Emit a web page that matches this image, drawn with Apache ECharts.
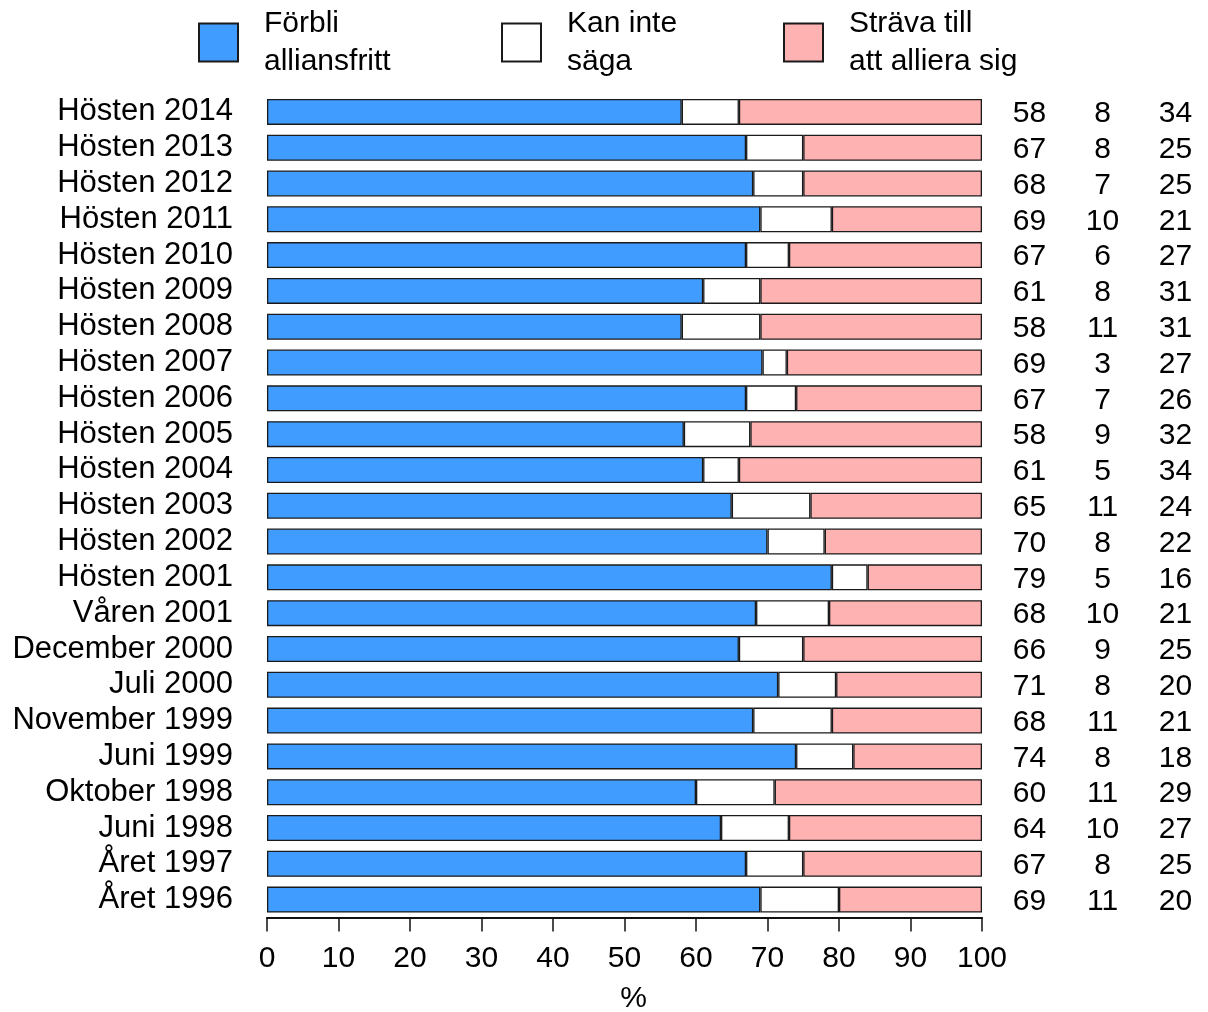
<!DOCTYPE html>
<html>
<head>
<meta charset="utf-8">
<script src="https://cdn.jsdelivr.net/npm/echarts@6/dist/echarts.min.js"></script>
<style>html,body{margin:0;padding:0;background:#fff}#c{width:1208px;height:1012px}</style>
</head>
<body>
<div id="c"></div>
<script>
var categories = ['Hösten 2014','Hösten 2013','Hösten 2012','Hösten 2011','Hösten 2010','Hösten 2009','Hösten 2008','Hösten 2007','Hösten 2006','Hösten 2005','Hösten 2004','Hösten 2003','Hösten 2002','Hösten 2001','Våren 2001','December 2000','Juli 2000','November 1999','Juni 1999','Oktober 1998','Juni 1998','Året 1997','Året 1996'];
var seriesNames = ['Förbli\nalliansfritt','Kan inte\nsäga','Sträva till\natt alliera sig'];
var blueVals  = [58,67,68,69,67,61,58,69.3,67,58.3,61,65,70,79,68.4,66,71.5,68,74,60,63.5,67,69];
var whiteVals = [8,8,7,10,6,8,11,3.4,7,9.3,5,11,8,5,10.2,9,8.1,11,8,11,9.5,8,11];
var pinkVals  = [34,25,25,21,27,31,31,27.3,26,32.4,34,24,22,16,21.4,25,20.4,21,18,29,27,25,20];
var blueLbl  = [58,67,68,69,67,61,58,69,67,58,61,65,70,79,68,66,71,68,74,60,64,67,69];
var whiteLbl = [8,8,7,10,6,8,11,3,7,9,5,11,8,5,10,9,8,11,8,11,10,8,11];
var pinkLbl  = [34,25,25,21,27,31,31,27,26,32,34,24,22,16,21,25,20,21,18,29,27,25,20];
var xTicks = [0,10,20,30,40,50,60,70,80,90,100];

var FONT = "'Liberation Sans', Arial, Helvetica, sans-serif";
var colors = ['#409dff','#ffffff','#ffb2b2'];
var chart = echarts.init(document.getElementById('c'), null, {renderer:'canvas'});

function legendAt(i, left){
  return {
    data:[seriesNames[i]], left:left, top:4, padding:0, orient:'horizontal',
    itemWidth:39, itemHeight:38, icon:'rect', selectedMode:false,
    textStyle:{fontFamily:FONT, fontSize:30, color:'#000', lineHeight:38, padding:[1,0,0,21]}
  };
}
var vals = [blueVals, whiteVals, pinkVals];
var series = vals.map(function(v, i){
  var s = {
    name: seriesNames[i], type:'bar', stack:'t', data:v, barWidth:26,
    itemStyle:{color:colors[i], borderColor:'#1a1a1a', borderWidth:1.3},
    emphasis:{disabled:true}, animation:false
  };
  if (i === 2) {
    s.label = {
      show:true, position:'right', distance:11, offset:[0,2],
      formatter:function(p){
        var k = p.dataIndex;
        return '{a|' + blueLbl[k] + '}{b|' + whiteLbl[k] + '}{c|' + pinkLbl[k] + '}';
      },
      rich:{
        a:{width:73, align:'center', fontSize:30, fontFamily:FONT, color:'#000'},
        b:{width:73, align:'center', fontSize:30, fontFamily:FONT, color:'#000'},
        c:{width:73, align:'center', fontSize:30, fontFamily:FONT, color:'#000'}
      }
    };
  }
  return s;
});

chart.setOption({
  animation:false,
  backgroundColor:'#fff',
  textStyle:{fontFamily:FONT},
  legend:[legendAt(0,198), legendAt(1,501), legendAt(2,783)],
  grid:{left:267, right:226, top:94, bottom:94.5, containLabel:false, outerBoundsMode:'none'},
  xAxis:{
    type:'value', min:0, max:100, interval:10,
    name:'%', nameLocation:'middle', nameGap:66,
    nameTextStyle:{fontSize:30, color:'#000', fontFamily:FONT, padding:[0,0,0,18]},
    axisLine:{show:true, lineStyle:{color:'#111', width:2}},
    axisTick:{show:true, length:14, lineStyle:{color:'#111', width:1.5}},
    splitLine:{show:false},
    axisLabel:{fontSize:30, color:'#000', fontFamily:FONT, margin:26,
      formatter:function(v){ return xTicks.indexOf(v) >= 0 ? String(v) : ''; }}
  },
  yAxis:{
    type:'category', data:categories, inverse:true,
    axisLine:{show:false}, axisTick:{show:false}, splitLine:{show:false},
    axisLabel:{interval:0, fontSize:31, color:'#000', fontFamily:FONT, margin:34, padding:[7,0,0,0]}
  },
  series:series
});
</script>
</body>
</html>
